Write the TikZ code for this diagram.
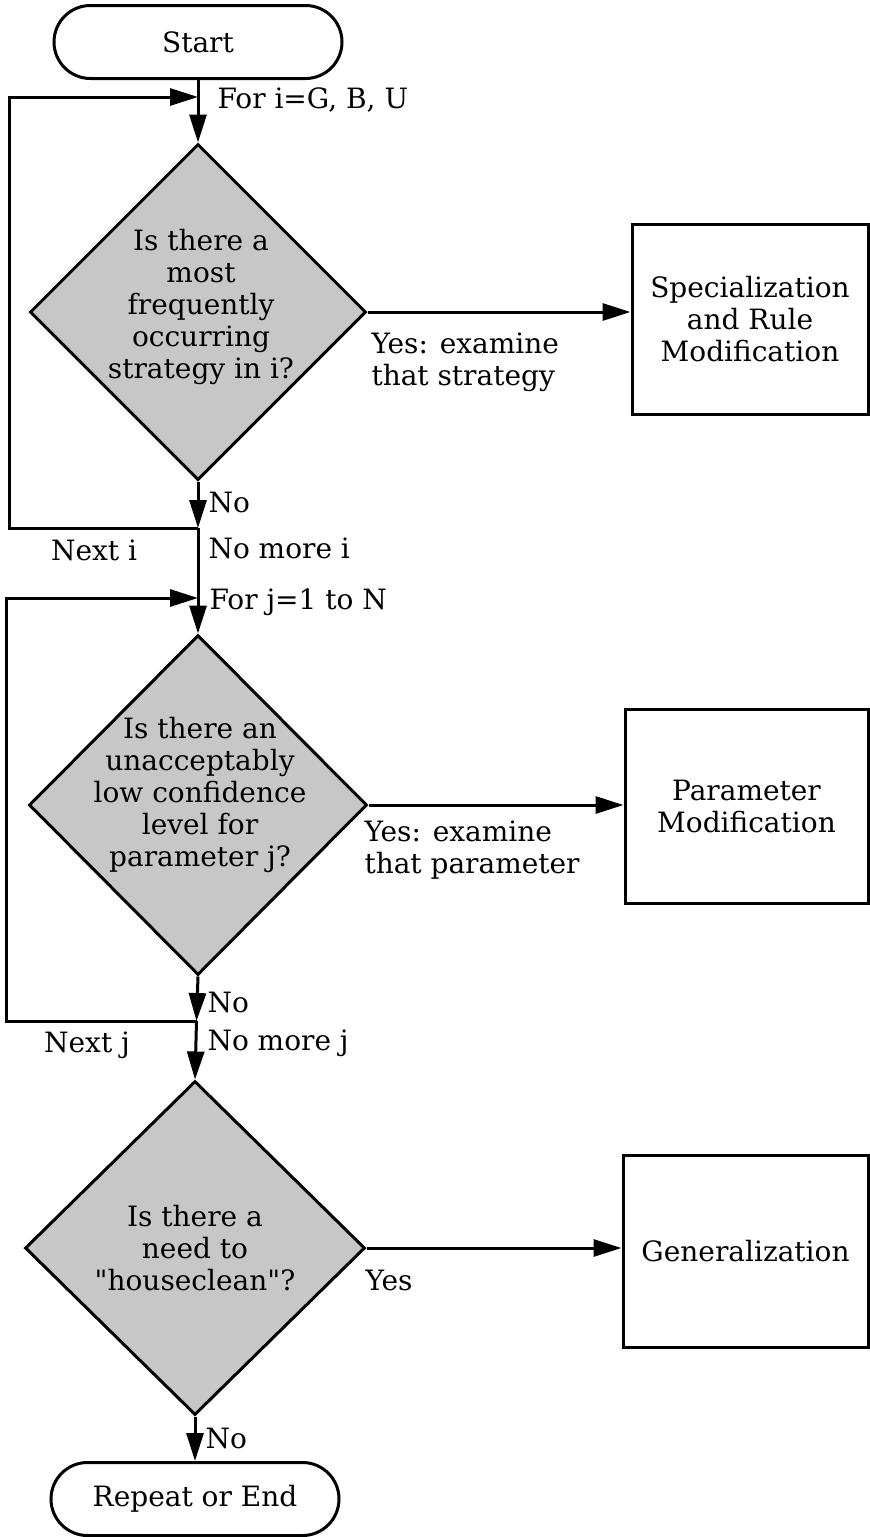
\documentclass[tikz,border=0pt]{standalone}
\usepackage{fontspec}
\setmainfont{DejaVu Serif}
\usetikzlibrary{arrows.meta,shapes.geometric,shapes.misc}
\begin{document}
\begin{tikzpicture}[x=1pt,y=-1pt,
  line width=3pt,
  font=\fontsize{28}{32}\selectfont,
  flow/.style={-{Triangle[length=28pt,width=17pt]}},
  terminal/.style={draw, rounded rectangle, minimum width=288pt, minimum height=73pt, inner sep=0pt},
  decision/.style={draw, diamond, fill=black!22, inner sep=0pt},
  question/.style={inner sep=0pt, align=center},
  process/.style={draw, rectangle, inner sep=0pt, align=center},
  lbl/.style={inner sep=0pt, anchor=west, align=left}]
\useasboundingbox (0,0) rectangle (870,1537);

% terminals
\node[terminal] (start) at (198,42) {Start};
\node[terminal] (end) at (195,1499) {Repeat or End};

% decisions
\node[decision, minimum width=336pt, minimum height=336pt] (d1) at (198,312) {};
\node[question] (d1t) at (201,307) {Is there a\\most\\frequently\\occurring\\strategy in i?};
\node[decision, minimum width=338pt, minimum height=340pt] (d2) at (198,805) {};
\node[question] (d2t) at (200,795) {Is there an\\unacceptably\\low confidence\\level for\\parameter j?};
\node[decision, minimum width=340pt, minimum height=334pt] (d3) at (195,1248) {};
\node[question] (d3t) at (195,1248) {Is there a\\need to\\\textquotedbl houseclean\textquotedbl ?};

% actions
\node[process, minimum width=236pt, minimum height=190pt] (b1) at (750,319) {Specialization\\and Rule\\Modification};
\node[process, minimum width=243pt, minimum height=194pt] (b2) at (746.5,806) {Parameter\\Modification};
\node[process, minimum width=245pt, minimum height=192pt] (b3) at (745.5,1251) {Generalization};

% loop junctions and corners
\coordinate (j1in)  at (198,97);
\coordinate (j1out) at (198,528);
\coordinate (l1)    at (9,97);
\coordinate (j2in)  at (198,598);
\coordinate (j2out) at (196.5,1021);
\coordinate (l2)    at (6,598);

% main column
\draw[flow] (start.south) -- (d1.north);
\draw[flow] (d1.south) -- (j1out);
\draw[flow] (j1out) -- (d2.north);
\draw[flow] (d2.south) -- (j2out);
\draw[flow] (j2out) -- (d3.north);
\draw[flow] (d3.south) -- (end.north);

% loops back to the top of each test
\draw[flow] (j1out) -| (l1) -- (j1in);
\draw[flow] (j2out) -| (l2) -- (j2in);

% yes branches
\draw[flow] (d1.east) -- (d1.east -| b1.west);
\draw[flow] (d2.east) -- (d2.east -| b2.west);
\draw[flow] (d3.east) -- (d3.east -| b3.west);

% labels
\node[lbl] (fori) at (216,100) {For i=G, B, U};
\node[lbl] (yes1) at (370,362) {Yes: examine\\that strategy};
\node[lbl] (no1) at (207,502) {No};
\node[inner sep=0pt] (nexti) at (94,550) {Next i};
\node[lbl] (nomorei) at (207,548) {No more i};
\node[lbl] (forj) at (208,602) {For j=1 to N};
\node[lbl] (yes2) at (363,850) {Yes: examine\\that parameter};
\node[lbl] (no2) at (206,1002) {No};
\node[inner sep=0pt] (nextj) at (87,1045) {Next j};
\node[lbl] (nomorej) at (206,1043) {No more j};
\node[lbl] (yes3) at (364,1280) {Yes};
\node[lbl] (no3) at (204,1438) {No};
\end{tikzpicture}
\end{document}
